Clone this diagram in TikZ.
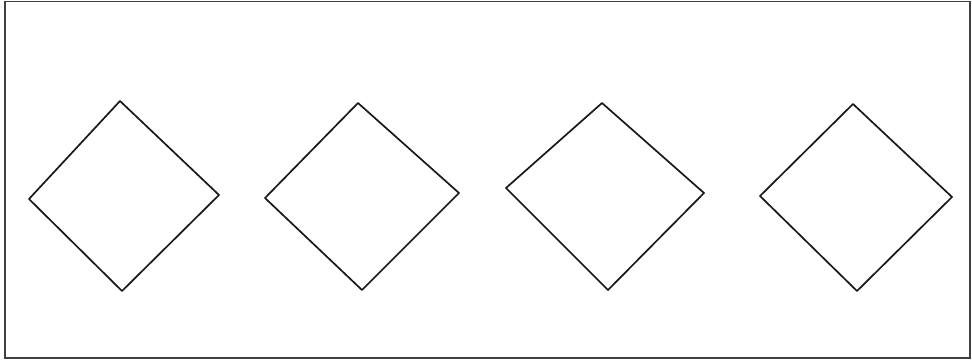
\documentclass[tikz,border=0pt]{standalone}
\begin{document}
\begin{tikzpicture}[x=1pt,y=-1pt,
  frame/.style={draw=black!75,line width=1.2pt},
  rhomb/.style={draw=black!90,line width=1.7pt,line join=round}]
\useasboundingbox (0,0) rectangle (972,362);
\draw[frame] (5,1.5) rectangle (970,358);
\draw[rhomb] (120,101) -- (219,195) -- (122,291) -- (29,199) -- cycle;
\draw[rhomb] (358,103) -- (459,193) -- (362,290) -- (265,198) -- cycle;
\draw[rhomb] (602,103) -- (704,193) -- (608,290) -- (506,188) -- cycle;
\draw[rhomb] (853,104) -- (952,197) -- (857,291) -- (760,196) -- cycle;
\end{tikzpicture}
\end{document}
